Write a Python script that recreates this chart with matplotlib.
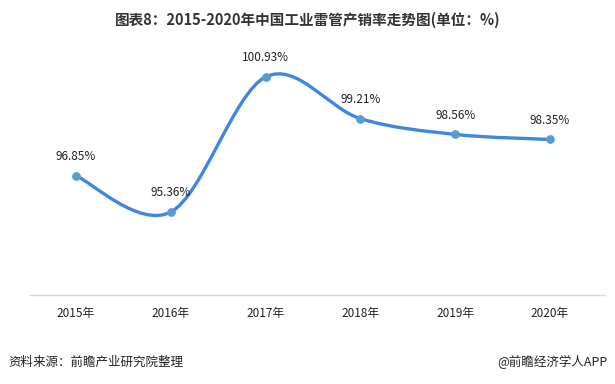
import matplotlib.pyplot as plt
import numpy as np
from matplotlib.path import Path
from matplotlib.patches import PathPatch

plt.rcParams['font.family'] = ['Noto Sans CJK SC', 'DejaVu Sans']

# data
years = ['2015年', '2016年', '2017年', '2018年', '2019年', '2020年']
rate = [96.85, 95.36, 100.93, 99.21, 98.56, 98.35]
labels = ['96.85%', '95.36%', '100.93%', '99.21%', '98.56%', '98.35%']

line_color = '#3f86de'
dot_color = '#5b9bd5'

fig = plt.figure(figsize=(6.15, 3.84), dpi=100)
ax = fig.add_axes([0.0488, 0.232, 0.935, 0.651])

x = np.arange(len(rate))
y = np.array(rate)

# smooth curve through the points (catmull-rom as cubic bezier)
pts = np.column_stack([x, y])
verts = [pts[0]]
codes = [Path.MOVETO]
for i in range(len(pts) - 1):
    p0 = pts[i - 1] if i > 0 else pts[i]
    p1 = pts[i]
    p2 = pts[i + 1]
    p3 = pts[i + 2] if i + 2 < len(pts) else pts[i + 1]
    c1 = p1 + (p2 - p0) / 6
    c2 = p2 - (p3 - p1) / 6
    verts += [c1, c2, p2]
    codes += [Path.CURVE4] * 3
ax.add_patch(PathPatch(Path(verts, codes), fill=False, edgecolor=line_color,
                       lw=2.4, capstyle='round', zorder=2))
ax.scatter(x, y, s=28, color=dot_color, zorder=3)

for xi, yi, lab in zip(x, y, labels):
    ax.annotate(lab, (xi, yi), xytext=(0, 9), textcoords='offset points',
                ha='center', va='bottom', fontsize=8.5, color='#222222')

ax.set_xlim(-0.485, 5.58)
ax.set_ylim(91.94, 102.25)
ax.set_xticks(x)
ax.set_xticklabels(years, fontsize=8.5, color='#222222')
ax.set_yticks([])
ax.tick_params(axis='x', length=0, pad=9)
for s in ['top', 'right', 'left']:
    ax.spines[s].set_visible(False)
ax.spines['bottom'].set_color('#d9d9d9')
ax.spines['bottom'].set_linewidth(1)

fig.text(0.5, 0.948, '图表8：2015-2020年中国工业雷管产销率走势图(单位：%)',
         ha='center', va='center', fontsize=10.5, fontweight='bold', color='#333333')
fig.text(0.013, 0.057, '资料来源：前瞻产业研究院整理', ha='left', va='center',
         fontsize=9, color='#222222')
fig.text(0.988, 0.057, '@前瞻经济学人APP', ha='right', va='center',
         fontsize=9, color='#222222')

fig.savefig('out.png', dpi=100)
